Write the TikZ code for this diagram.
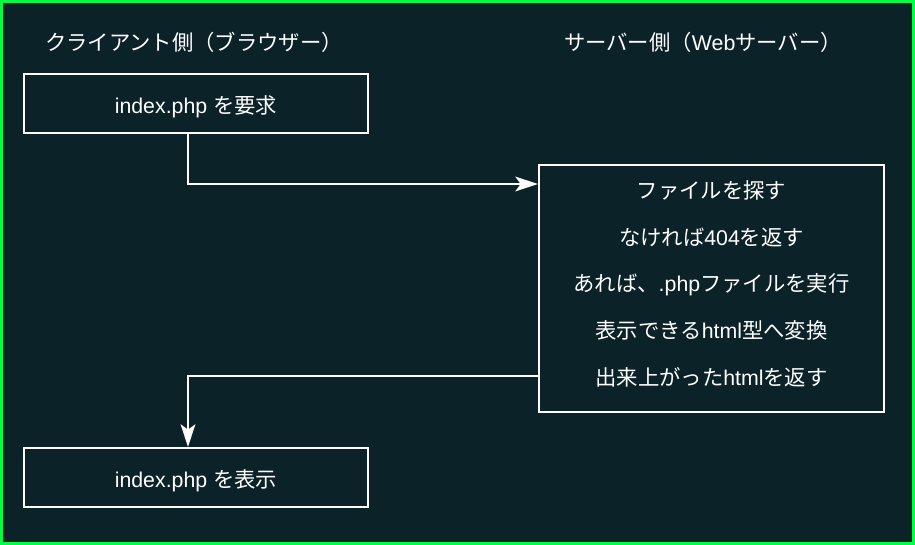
\documentclass[tikz,border=0pt]{standalone}
\usepackage{fontspec}
\setmainfont{Liberation Sans}
\newfontfamily\jp{Noto Sans CJK JP}
\usepackage{xcolor}
\usetikzlibrary{arrows.meta}
\definecolor{bgdark}{HTML}{0C2229}
\definecolor{framegreen}{HTML}{00FF44}

\begin{document}
\begin{tikzpicture}[x=0.75pt, y=-0.75pt,
  box/.style={draw=white, line width=1.5pt, minimum width=258pt, minimum height=44.25pt,
              inner sep=0pt, text height=19pt, text depth=4pt},
  flow/.style={draw=white, line width=1.5pt, -{Stealth[length=17pt, width=11pt, inset=4pt]}}]
\useasboundingbox (0,0) rectangle (915,545);
\draw[framegreen, fill=bgdark, line width=2.25pt] (1.5,1.5) rectangle (913.5,543.5);
\begin{scope}[every node/.style={text=white, font=\fontsize{16pt}{19pt}\selectfont}]
  \node (client) at (194,42) {{\jp クライアント側（ブラウザー）}};
  \node (server) at (703,42) {{\jp サーバー側（}Web{\jp サーバー）}};
  \node[box] (req) at (196,103.5) {index.php {\jp を要求}};
  \node[box, minimum width=258.75pt, minimum height=185.25pt] (srv) at (711.5,288.5)
    [label={[text=white, align=center, yshift=3.5pt,
             font=\fontsize{16pt}{35pt}\selectfont]center:
     {\jp ファイルを探す}\\
     {\jp なければ}404{\jp を返す}\\
     {\jp あれば、}.php{\jp ファイルを実行}\\
     {\jp 表示できる}html{\jp 型へ変換}\\
     {\jp 出来上がった}html{\jp を返す}}] {};
  \node[box] (show) at (196,477.5) {index.php {\jp を表示}};
\end{scope}
\draw[flow] ([xshift=-6pt]req.south) |- ([yshift=-15pt]srv.north west);
\draw[flow] ([yshift=27.75pt]srv.south west) -| ([xshift=-6pt]show.north);
\end{tikzpicture}
\end{document}
